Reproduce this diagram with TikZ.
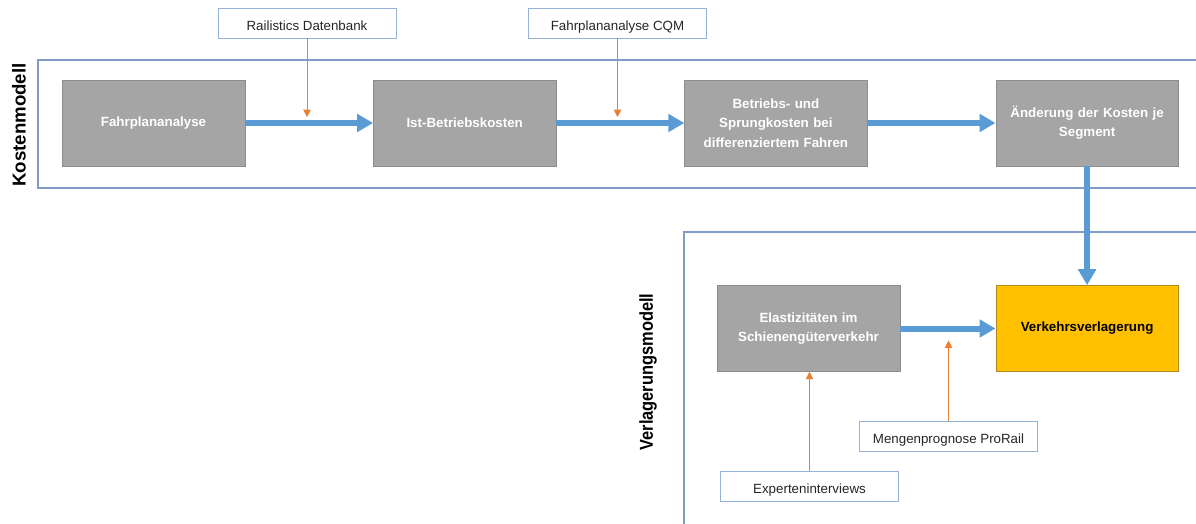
\documentclass[tikz,border=0pt]{standalone}
\usepackage{fontspec}
\setmainfont{Liberation Sans}
\usetikzlibrary{arrows.meta, positioning}
\definecolor{boxgray}{HTML}{A5A5A5}
\definecolor{boxline}{HTML}{8C8C8C}
\definecolor{flowblue}{HTML}{5B9BD5}
\definecolor{feedorange}{HTML}{ED7D31}
\definecolor{frameblue}{HTML}{7F9DC6}
\definecolor{srcblue}{HTML}{95B3D7}
\definecolor{goldfill}{HTML}{FFC000}
\definecolor{goldline}{HTML}{B08A1E}
\tikzstyle{process} = [draw=boxline, fill=boxgray, minimum width=137pt, minimum height=64.5pt, text width=130pt, align=center, text=white, font=\fontsize{10}{14.5}\selectfont\bfseries]
\tikzstyle{source} = [draw=srcblue, fill=white, minimum width=133.5pt, minimum height=22.5pt, inner sep=0pt, text height=11pt, text depth=0pt, text=black!85, font=\fontsize{10}{12}\selectfont]
\tikzstyle{flow} = [line width=4.5pt, draw=flowblue, -{Triangle[length=12pt, width=13pt]}]
\tikzstyle{feed} = [line width=0.75pt, draw=feedorange, -{Triangle[length=5.5pt, width=5.5pt]}]
\tikzstyle{frame} = [draw=frameblue, line width=0.9pt]
\tikzstyle{modell} = [rotate=90, font=\fontsize{14}{16}\selectfont\bfseries]

\begin{document}
\begin{tikzpicture}[x=0.75pt, y=-0.75pt, node distance=96pt]
		\useasboundingbox (0,0) rectangle (1196,524);
		\clip (0,0) rectangle (1196,524);
		\draw[frame] (38,60) rectangle (1210,188);
		\draw[frame] (684,232) rectangle (1210,540);
		
		\node[modell]                    (kmod)  at (19,125)    {Kostenmodell};
		\node[modell]                    (vmod)  at (648,372)   {\scalebox{0.88}[1]{Verlagerungsmodell}};
		
		\node[process]                   (fpa)   at (153.5,123) {Fahrplananalyse};
		\node[process, right=of fpa]     (ist)                  {Ist-Betriebskosten};
		\node[process, right=of ist]     (bsk)                  {Betriebs- und\\Sprungkosten bei\\differenziertem Fahren};
		\node[process, right=of bsk]     (aend)                 {Änderung der Kosten je\\Segment};
		\node[process]                   (elast) at (808.5,328.5) {Elastizitäten im\\Schienengüterverkehr};
		\node[process, fill=goldfill, draw=goldline, text=black] (vvl) at (aend |- elast) {Verkehrsverlagerung};
		
		\node[source]                    (rdb)   at (307,23)    {Railistics Datenbank};
		\node[source]                    (cqm)   at (617.5,23)  {Fahrplananalyse CQM};
		\node[source]                    (mpp)   at (948.5,436) {Mengenprognose ProRail};
		\node[source]                    (exi)   at (809.5,486) {Experteninterviews};
		
		\draw[flow] (fpa)   -- (ist);
		\draw[flow] (ist)   -- (bsk);
		\draw[flow] (bsk)   -- (aend);
		\draw[flow] (aend)  -- (vvl);
		\draw[flow] (elast) -- (vvl);
		
		\draw[feed, shorten >=4.5pt]  (rdb) -- (rdb |- fpa.east);
		\draw[feed, shorten >=4.5pt]  (cqm) -- (cqm |- ist.east);
		\draw[feed, shorten >=9pt]    (mpp) -- (mpp |- elast.east);
		\draw[feed]                   (exi) -- (exi |- elast.south);
	\end{tikzpicture}
\end{document}
